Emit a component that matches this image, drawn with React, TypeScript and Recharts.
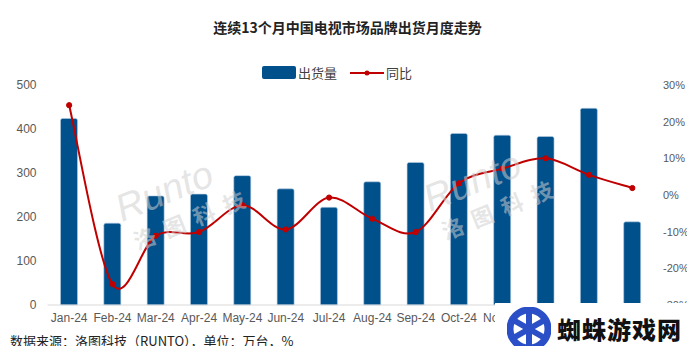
import React from 'react';
import {
  ComposedChart, Bar, Line, XAxis, YAxis,
} from 'recharts';

const months = [
  'Jan-24', 'Feb-24', 'Mar-24', 'Apr-24', 'May-24', 'Jun-24', 'Jul-24',
  'Aug-24', 'Sep-24', 'Oct-24', 'Nov-24', 'Dec-24', 'Jan-25', 'Feb-25',
];
const shipments = [424, 186, 248, 252, 294, 264, 222, 280, 324, 390, 386, 383, 447, 189];
const yoy = [24.5, -24.3, -11.1, -10.1, -2.8, -9.4, -0.7, -6.5, -10.1, 3.2, 7.2, 10.0, 5.5, 1.9];
const leftTicks = [0, 100, 200, 300, 400, 500];
const rightTicks = [-30, -20, -10, 0, 10, 20, 30];
// labels hidden under the site logo in the source image
const coveredLabels = ['Dec-24', 'Jan-25', 'Feb-25'];

const data = months.map((m, i) => ({ month: m, shipments: shipments[i], yoy: yoy[i] }));

const FONT = '"Liberation Sans", Arial, "Noto Sans CJK SC", sans-serif';
const BLUE = '#00508C';
const RED = '#C00000';

// Excel-like smoothed line (uniform Catmull-Rom as bezier segments)
function smoothCurve(context: any) {
  let pts: number[][] = [];
  return {
    areaStart() {},
    areaEnd() {},
    lineStart() { pts = []; },
    point(x: number, y: number) { pts.push([+x, +y]); },
    lineEnd() {
      const n = pts.length;
      if (!n) return;
      context.moveTo(pts[0][0], pts[0][1]);
      for (let i = 0; i < n - 1; i++) {
        const p0 = pts[Math.max(i - 1, 0)];
        const p1 = pts[i];
        const p2 = pts[i + 1];
        const p3 = pts[Math.min(i + 2, n - 1)];
        context.bezierCurveTo(
          p1[0] + (p2[0] - p0[0]) / 6, p1[1] + (p2[1] - p0[1]) / 6,
          p2[0] - (p3[0] - p1[0]) / 6, p2[1] - (p3[1] - p1[1]) / 6,
          p2[0], p2[1],
        );
      }
    },
  };
}

function Watermark({ x, y }: { x: number; y: number }) {
  return (
    <g transform={`translate(${x},${y}) rotate(-22)`} style={{ pointerEvents: 'none' }}>
      <text x={0} y={0} fontSize={38} fontStyle="italic" fontFamily={FONT}
        fill="#cfcfcf" fillOpacity={0.55}>Runto</text>
      <text x={4} y={32} fontSize={22} fontWeight="bold" fontFamily='"Noto Sans CJK SC", sans-serif'
        fill="#cfcfcf" fillOpacity={0.55} letterSpacing={10}>洛图科技</text>
    </g>
  );
}

export default function App() {
  return (
    <div style={{ position: 'relative', width: 695, height: 354, margin: -8, background: '#fff', fontFamily: FONT }}>
      <div style={{
        position: 'absolute', top: 17, left: 0, width: 695, textAlign: 'center',
        fontSize: 14, fontWeight: 'bold', color: '#222',
        fontFamily: '"Noto Sans CJK SC", sans-serif',
      }}>
        连续13个月中国电视市场品牌出货月度走势
      </div>

      <div style={{
        position: 'absolute', top: 63, left: 262, display: 'flex', alignItems: 'center',
        fontSize: 13, color: '#404040', fontFamily: '"Noto Sans CJK SC", sans-serif',
      }}>
        <span style={{ display: 'inline-block', width: 34, height: 13, background: BLUE, borderRadius: 2 }} />
        <span style={{ marginLeft: 2 }}>出货量</span>
        <svg width={36} height={12} style={{ marginLeft: 12 }}>
          <line x1={1} y1={6} x2={35} y2={6} stroke={RED} strokeWidth={2} />
          <circle cx={18} cy={6} r={2.5} fill={RED} />
        </svg>
        <span style={{ marginLeft: 1 }}>同比</span>
      </div>

      <ComposedChart
        width={695}
        height={354}
        data={data}
        margin={{ top: 85, right: 0, bottom: 19, left: 0 }}
        style={{ position: 'absolute', top: 0, left: 0 }}
      >
        <XAxis
          dataKey="month"
          height={30}
          interval={0}
          tickFormatter={(v) => (coveredLabels.includes(v) ? '' : v)}
          tick={{ fill: '#595959', fontSize: 12, fontFamily: FONT }}
          axisLine={{ stroke: '#d9d9d9' }}
          tickLine={false}
          tickMargin={2}
        />
        <YAxis
          yAxisId="left"
          width={47.5}
          domain={[0, 500]}
          ticks={leftTicks}
          tick={{ fill: '#595959', fontSize: 12, fontFamily: FONT }}
          axisLine={false}
          tickLine={false}
          tickMargin={5}
        />
        <YAxis
          yAxisId="right"
          orientation="right"
          width={41}
          domain={[-30, 30]}
          ticks={rightTicks}
          tickFormatter={(v) => `${v}%`}
          tick={{ fill: '#595959', fontSize: 11, fontFamily: FONT }}
          axisLine={false}
          tickLine={false}
          tickMargin={3}
        />
        <Bar
          yAxisId="left"
          dataKey="shipments"
          fill={BLUE}
          stroke="#b9cfe3"
          strokeWidth={0.6}
          barSize={17}
          radius={[2, 2, 0, 0]}
          isAnimationActive={false}
        />
        <Line
          yAxisId="right"
          dataKey="yoy"
          type={smoothCurve as any}
          stroke={RED}
          strokeWidth={2}
          dot={{ r: 2.6, fill: RED, stroke: RED, strokeWidth: 1 }}
          activeDot={false}
          isAnimationActive={false}
        />
      </ComposedChart>

      <svg width={695} height={354} style={{ position: 'absolute', top: 0, left: 0, pointerEvents: 'none' }}>
        <Watermark x={122} y={222} />
        <Watermark x={430} y={212} />
      </svg>

      <div style={{
        position: 'absolute', top: 331, left: 10, fontSize: 13, color: '#222',
        fontFamily: '"Noto Sans CJK SC", sans-serif',
      }}>
        数据来源：洛图科技（RUNTO），单位：万台，%
      </div>

      <div style={{
        position: 'absolute', left: 495, top: 303, width: 200, height: 51, background: '#fff',
        display: 'flex', alignItems: 'center',
      }}>
        <svg width={44} height={44} style={{ marginLeft: 12 }}>
          <circle cx={22} cy={22} r={19} fill="none" stroke="#2b4fc7" strokeWidth={7} />
          <g stroke="#2b4fc7" strokeWidth={6} strokeLinecap="round">
            <line x1={22} y1={6} x2={22} y2={38} />
            <line x1={8} y1={14} x2={36} y2={30} />
            <line x1={8} y1={30} x2={36} y2={14} />
          </g>
        </svg>
        <span style={{
          marginLeft: 6, fontSize: 24, fontWeight: 900, color: '#111', letterSpacing: 1,
          fontFamily: '"Noto Sans CJK SC", sans-serif',
        }}>
          蜘蛛游戏网
        </span>
      </div>
    </div>
  );
}
